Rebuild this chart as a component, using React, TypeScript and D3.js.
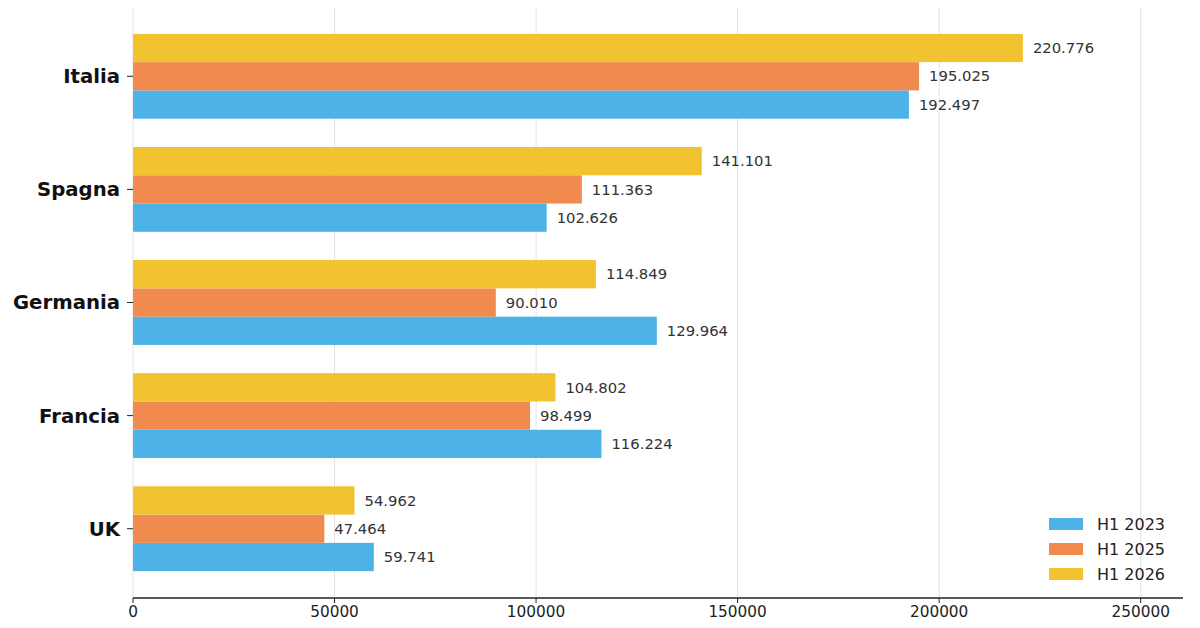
import React from 'react';
import * as d3 from 'd3';

const countries = ['Italia', 'Spagna', 'Germania', 'Francia', 'UK'];
const seriesNames = ['H1 2023', 'H1 2025', 'H1 2026'];
const h1_2023 = [192497, 102626, 129964, 116224, 59741];
const h1_2025 = [195025, 111363, 90010, 98499, 47464];
const h1_2026 = [220776, 141101, 114849, 104802, 54962];
const xTicks = [0, 50000, 100000, 150000, 200000, 250000];
const colors = ['#4DB3E6', '#F08A4E', '#F2C330'];

const W = 1200;
const H = 628;
const margin = { left: 133, right: 17, top: 7, bottom: 30 };
const FONT = '"DejaVu Sans", Verdana, sans-serif';

const fmt = (v: number) => d3.format(',')(v).replace(/,/g, '.');

const App: React.FC = () => {
  const series = [h1_2023, h1_2025, h1_2026];
  const x = d3.scaleLinear().domain([0, 260500]).range([margin.left, W - margin.right]);
  // category positions: UK = 0 at the bottom, Italia = 4 at the top
  const y = d3.scaleLinear().domain([-0.6125, 4.6125]).range([H - margin.bottom, margin.top]);
  const barH = 0.25;
  const pxBar = Math.abs(y(0) - y(barH));
  // offsets: blue below, orange centred, yellow above
  const offsets = [-0.25, 0, 0.25];
  const bottom = H - margin.bottom;

  return (
    <svg width={W} height={H} style={{ position: 'absolute', left: 0, top: 0, background: '#fff' }}>
      {/* grid */}
      {xTicks.map(t => (
        <line key={'g' + t} x1={x(t)} x2={x(t)} y1={margin.top} y2={bottom}
          stroke="#e3e3e3" strokeWidth={1} />
      ))}

      {/* bars */}
      {countries.map((c, i) => {
        const pos = countries.length - 1 - i;
        return series.map((s, k) => {
          const yc = y(pos + offsets[k]);
          return (
            <g key={c + k}>
              <rect x={x(0)} y={yc - pxBar / 2} width={x(s[i]) - x(0)} height={pxBar} fill={colors[k]} />
              <text x={x(s[i]) + 10} y={yc} dy="0.35em" fontFamily={FONT} fontSize={14.8} fill="#333">
                {fmt(s[i])}
              </text>
            </g>
          );
        });
      })}

      {/* y axis ticks and labels */}
      {countries.map((c, i) => {
        const yc = y(countries.length - 1 - i);
        return (
          <g key={'y' + c}>
            <line x1={x(0) - 6} x2={x(0)} y1={yc} y2={yc} stroke="#222" strokeWidth={1} />
            <text x={x(0) - 13} y={yc} dy="0.35em" textAnchor="end" fontFamily={FONT}
              fontWeight="bold" fontSize={19.7} fill="#111">{c}</text>
          </g>
        );
      })}

      {/* x axis */}
      <line x1={x(0)} x2={x.range()[1]} y1={bottom} y2={bottom} stroke="#222" strokeWidth={1.5} />
      {xTicks.map(t => (
        <g key={'x' + t}>
          <line x1={x(t)} x2={x(t)} y1={bottom} y2={bottom + 5} stroke="#222" strokeWidth={1} />
          <text x={x(t)} y={bottom + 19} textAnchor="middle" fontFamily={FONT} fontSize={15.3} fill="#222">
            {t}
          </text>
        </g>
      ))}

      {/* legend */}
      {seriesNames.map((n, k) => {
        const ly = 524 + k * 25;
        return (
          <g key={n}>
            <rect x={1049} y={ly - 6} width={34} height={12} fill={colors[k]} />
            <text x={1097} y={ly} dy="0.35em" fontFamily={FONT} fontSize={16} fill="#222">{n}</text>
          </g>
        );
      })}
    </svg>
  );
};

export default App;
